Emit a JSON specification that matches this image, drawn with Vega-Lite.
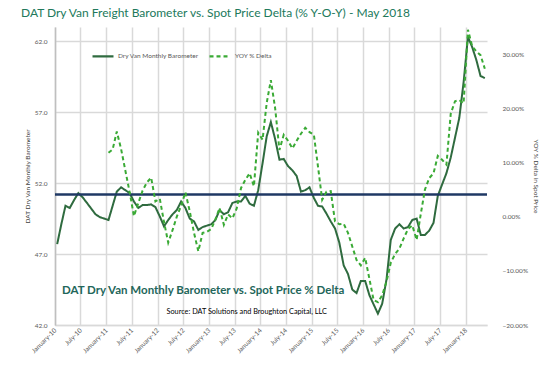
{
  "$schema": "https://vega.github.io/schema/vega-lite/v6.json",
  "width": 432,
  "height": 298,
  "autosize": {"type": "none"},
  "padding": {"left": 55, "top": 27, "right": 63, "bottom": 51},
  "background": "white",
  "config": {
    "font": "Lato",
    "view": {"stroke": null},
    "axis": {"labelFont": "Lato", "titleFont": "Lato"},
    "axisX": {
      "title": null,
      "format": "%B-%y",
      "formatType": "time",
      "labelAngle": -45,
      "labelAlign": "right",
      "labelBaseline": "middle",
      "labelPadding": 4,
      "labelFontSize": 6.5,
      "labelColor": "#595959",
      "labelOverlap": false,
      "ticks": false,
      "grid": true,
      "gridColor": "#d9d9d9",
      "gridWidth": 1.5,
      "domainColor": "#d9d9d9",
      "domainWidth": 1.5
    },
    "legend": {"labelFont": "Lato"}
  },
  "title": {
    "text": "DAT Dry Van Freight Barometer vs. Spot Price Delta (% Y-O-Y) - May 2018",
    "anchor": "start",
    "frame": "group",
    "dx": -34,
    "offset": 6,
    "fontSize": 12,
    "fontWeight": "normal",
    "color": "#21795b",
    "font": "Lato"
  },
  "data": {"values": [
    {"date": "2010-01-01T00:00", "barometer": 47.7},
    {"date": "2010-02-01T00:00", "barometer": 49.1},
    {"date": "2010-03-01T00:00", "barometer": 50.4},
    {"date": "2010-04-01T00:00", "barometer": 50.25},
    {"date": "2010-05-01T00:00", "barometer": 50.8},
    {"date": "2010-06-01T00:00", "barometer": 51.3},
    {"date": "2010-07-01T00:00", "barometer": 51.0},
    {"date": "2010-08-01T00:00", "barometer": 50.6},
    {"date": "2010-09-01T00:00", "barometer": 50.2},
    {"date": "2010-10-01T00:00", "barometer": 49.8},
    {"date": "2010-11-01T00:00", "barometer": 49.6},
    {"date": "2010-12-01T00:00", "barometer": 49.5},
    {"date": "2011-01-01T00:00", "barometer": 49.4, "yoy": 0.118},
    {"date": "2011-02-01T00:00", "barometer": 50.4, "yoy": 0.124},
    {"date": "2011-03-01T00:00", "barometer": 51.4, "yoy": 0.157},
    {"date": "2011-04-01T00:00", "barometer": 51.7, "yoy": 0.125},
    {"date": "2011-05-01T00:00", "barometer": 51.5, "yoy": 0.085},
    {"date": "2011-06-01T00:00", "barometer": 51.3, "yoy": 0.045},
    {"date": "2011-07-01T00:00", "barometer": 50.7, "yoy": 0.001},
    {"date": "2011-08-01T00:00", "barometer": 50.25, "yoy": 0.025},
    {"date": "2011-09-01T00:00", "barometer": 50.45, "yoy": 0.048},
    {"date": "2011-10-01T00:00", "barometer": 50.45, "yoy": 0.063},
    {"date": "2011-11-01T00:00", "barometer": 50.5, "yoy": 0.072},
    {"date": "2011-12-01T00:00", "barometer": 50.3, "yoy": 0.028},
    {"date": "2012-01-01T00:00", "barometer": 49.65, "yoy": 0.033},
    {"date": "2012-02-01T00:00", "barometer": 48.95, "yoy": -0.010},
    {"date": "2012-03-01T00:00", "barometer": 49.4, "yoy": -0.048},
    {"date": "2012-04-01T00:00", "barometer": 49.8, "yoy": -0.025},
    {"date": "2012-05-01T00:00", "barometer": 50.1, "yoy": 0.000},
    {"date": "2012-06-01T00:00", "barometer": 50.7, "yoy": 0.020},
    {"date": "2012-07-01T00:00", "barometer": 50.25, "yoy": 0.045},
    {"date": "2012-08-01T00:00", "barometer": 49.5, "yoy": 0.010},
    {"date": "2012-09-01T00:00", "barometer": 49.3, "yoy": -0.030},
    {"date": "2012-10-01T00:00", "barometer": 48.7, "yoy": -0.064},
    {"date": "2012-11-01T00:00", "barometer": 48.9, "yoy": -0.030},
    {"date": "2012-12-01T00:00", "barometer": 49.0, "yoy": -0.028},
    {"date": "2013-01-01T00:00", "barometer": 49.1, "yoy": -0.023},
    {"date": "2013-02-01T00:00", "barometer": 49.4, "yoy": -0.005},
    {"date": "2013-03-01T00:00", "barometer": 50.1, "yoy": 0.016},
    {"date": "2013-04-01T00:00", "barometer": 49.8, "yoy": -0.015},
    {"date": "2013-05-01T00:00", "barometer": 49.95, "yoy": 0.004},
    {"date": "2013-06-01T00:00", "barometer": 50.6, "yoy": -0.003},
    {"date": "2013-07-01T00:00", "barometer": 50.7, "yoy": 0.015},
    {"date": "2013-08-01T00:00", "barometer": 50.7, "yoy": 0.053},
    {"date": "2013-09-01T00:00", "barometer": 51.1, "yoy": 0.068},
    {"date": "2013-10-01T00:00", "barometer": 50.55, "yoy": 0.080},
    {"date": "2013-11-01T00:00", "barometer": 50.4, "yoy": 0.056},
    {"date": "2013-12-01T00:00", "barometer": 51.5, "yoy": 0.155},
    {"date": "2014-01-01T00:00", "barometer": 53.4, "yoy": 0.142},
    {"date": "2014-02-01T00:00", "barometer": 55.3, "yoy": 0.210},
    {"date": "2014-03-01T00:00", "barometer": 56.3, "yoy": 0.252},
    {"date": "2014-04-01T00:00", "barometer": 55.1, "yoy": 0.200},
    {"date": "2014-05-01T00:00", "barometer": 53.65, "yoy": 0.123},
    {"date": "2014-06-01T00:00", "barometer": 53.7, "yoy": 0.151},
    {"date": "2014-07-01T00:00", "barometer": 53.2, "yoy": 0.140},
    {"date": "2014-08-01T00:00", "barometer": 52.9, "yoy": 0.126},
    {"date": "2014-09-01T00:00", "barometer": 52.5, "yoy": 0.140},
    {"date": "2014-10-01T00:00", "barometer": 51.4, "yoy": 0.153},
    {"date": "2014-11-01T00:00", "barometer": 51.5, "yoy": 0.164},
    {"date": "2014-12-01T00:00", "barometer": 51.7, "yoy": 0.156},
    {"date": "2015-01-01T00:00", "barometer": 50.95, "yoy": 0.151},
    {"date": "2015-02-01T00:00", "barometer": 50.4, "yoy": 0.092},
    {"date": "2015-03-01T00:00", "barometer": 50.35, "yoy": 0.031},
    {"date": "2015-04-01T00:00", "barometer": 49.85, "yoy": 0.046},
    {"date": "2015-05-01T00:00", "barometer": 49.3, "yoy": 0.047},
    {"date": "2015-06-01T00:00", "barometer": 48.8, "yoy": -0.009},
    {"date": "2015-07-01T00:00", "barometer": 47.8, "yoy": -0.014},
    {"date": "2015-08-01T00:00", "barometer": 46.2, "yoy": -0.013},
    {"date": "2015-09-01T00:00", "barometer": 45.6, "yoy": -0.030},
    {"date": "2015-10-01T00:00", "barometer": 44.5, "yoy": -0.055},
    {"date": "2015-11-01T00:00", "barometer": 44.25, "yoy": -0.080},
    {"date": "2015-12-01T00:00", "barometer": 45.1, "yoy": -0.090},
    {"date": "2016-01-01T00:00", "barometer": 45.1, "yoy": -0.076},
    {"date": "2016-02-01T00:00", "barometer": 44.1, "yoy": -0.115},
    {"date": "2016-03-01T00:00", "barometer": 43.45, "yoy": -0.154},
    {"date": "2016-04-01T00:00", "barometer": 42.8, "yoy": -0.158},
    {"date": "2016-05-01T00:00", "barometer": 43.5, "yoy": -0.145},
    {"date": "2016-06-01T00:00", "barometer": 45.2, "yoy": -0.120},
    {"date": "2016-07-01T00:00", "barometer": 48.0, "yoy": -0.085},
    {"date": "2016-08-01T00:00", "barometer": 48.8, "yoy": -0.069},
    {"date": "2016-09-01T00:00", "barometer": 49.1, "yoy": -0.059},
    {"date": "2016-10-01T00:00", "barometer": 48.8, "yoy": -0.040},
    {"date": "2016-11-01T00:00", "barometer": 48.9, "yoy": -0.023},
    {"date": "2016-12-01T00:00", "barometer": 49.4, "yoy": -0.016},
    {"date": "2017-01-01T00:00", "barometer": 49.5, "yoy": -0.043},
    {"date": "2017-02-01T00:00", "barometer": 48.35, "yoy": 0.005},
    {"date": "2017-03-01T00:00", "barometer": 48.35, "yoy": 0.050},
    {"date": "2017-04-01T00:00", "barometer": 48.65, "yoy": 0.071},
    {"date": "2017-05-01T00:00", "barometer": 49.2, "yoy": 0.080},
    {"date": "2017-06-01T00:00", "barometer": 51.1, "yoy": 0.112},
    {"date": "2017-07-01T00:00", "barometer": 51.9, "yoy": 0.105},
    {"date": "2017-08-01T00:00", "barometer": 52.7, "yoy": 0.096},
    {"date": "2017-09-01T00:00", "barometer": 53.8, "yoy": 0.190},
    {"date": "2017-10-01T00:00", "barometer": 55.2, "yoy": 0.213},
    {"date": "2017-11-01T00:00", "barometer": 56.6, "yoy": 0.215},
    {"date": "2017-12-01T00:00", "barometer": 59.1, "yoy": 0.209},
    {"date": "2018-01-01T00:00", "barometer": 62.3, "yoy": 0.345},
    {"date": "2018-02-01T00:00", "barometer": 61.6, "yoy": 0.315},
    {"date": "2018-03-01T00:00", "barometer": 60.7, "yoy": 0.305},
    {"date": "2018-04-01T00:00", "barometer": 59.55, "yoy": 0.298},
    {"date": "2018-05-01T00:00", "barometer": 59.4, "yoy": 0.273}
  ]},
  "layer": [
    {
      "layer": [
        {
          "mark": {"type": "line", "strokeWidth": 2, "color": "#2f6b3f"},
          "encoding": {
            "x": {
              "field": "date",
              "type": "temporal",
              "timeUnit": "yearmonth",
              "bandPosition": 0.5,
              "scale": {"domain": [{"year": 2010, "month": 1, "date": 1}, {"year": 2018, "month": 6, "date": 1}]},
              "axis": {
                "tickCount": {"interval": "month", "step": 6},
                "format": "%B-%y",
                "formatType": "time"
              }
            },
            "y": {
              "field": "barometer",
              "type": "quantitative",
              "scale": {"domain": [42, 63], "zero": false, "nice": false},
              "axis": {
                "orient": "left",
                "title": "DAT Dry Van Monthly Barometer",
                "titleFontSize": 6.5,
                "titleFontWeight": "normal",
                "titleColor": "#404040",
                "titlePadding": 4,
                "values": [42, 47, 52, 57, 62],
                "format": ".1f",
                "labelFontSize": 6.5,
                "labelColor": "#595959",
                "labelPadding": 8,
                "ticks": false,
                "grid": true,
                "gridColor": "#d9d9d9",
                "gridWidth": 1.5,
                "domain": true,
                "domainColor": "#bfbfbf",
                "domainWidth": 1.5
              }
            },
            "color": {
              "datum": "Dry Van Monthly Barometer",
              "type": "nominal",
              "scale": {"domain": ["Dry Van Monthly Barometer", "YOY % Delta"], "range": ["#2f6b3f", "#3aaa35"]},
              "legend": {
                "title": null,
                "orient": "none",
                "legendX": 36,
                "legendY": 17,
                "direction": "horizontal",
                "symbolType": "stroke",
                "symbolSize": 440,
                "symbolStrokeWidth": 2.2,
                "labelFontSize": 6.5,
                "labelColor": "#595959",
                "columnPadding": 6,
                "labelOffset": 3
              }
            },
            "strokeDash": {
              "datum": "Dry Van Monthly Barometer",
              "type": "nominal",
              "scale": {"domain": ["Dry Van Monthly Barometer", "YOY % Delta"], "range": [[1, 0], [4, 3]]},
              "legend": {
                "title": null,
                "orient": "none",
                "legendX": 36,
                "legendY": 17,
                "direction": "horizontal",
                "symbolType": "stroke",
                "symbolSize": 440,
                "symbolStrokeWidth": 2.2,
                "labelFontSize": 6.5,
                "labelColor": "#595959",
                "columnPadding": 6,
                "labelOffset": 3
              }
            }
          }
        },
        {
          "data": {"values": [{"level": 51.2}]},
          "mark": {"type": "rule", "color": "#1f3864", "strokeWidth": 2.5},
          "encoding": {"y": {"field": "level", "type": "quantitative"}}
        },
        {
          "data": {"values": [{"label": "DAT Dry Van Monthly Barometer vs. Spot Price % Delta"}]},
          "mark": {"type": "text", "align": "left", "baseline": "middle", "fontSize": 11.5, "fontWeight": "bold", "color": "#23665a", "font": "Lato"},
          "encoding": {
            "x": {"datum": {"year": 2010, "month": 2, "date": 20}, "type": "temporal", "axis": {"tickCount": {"interval": "month", "step": 6}, "format": "%B-%y", "formatType": "time"}},
            "y": {"datum": 44.4, "type": "quantitative"},
            "text": {"field": "label"}
          }
        },
        {
          "data": {"values": [{"label": "Source: DAT Solutions and Broughton Capital, LLC"}]},
          "mark": {"type": "text", "align": "center", "baseline": "middle", "fontSize": 7.3, "color": "#000000", "font": "Lato"},
          "encoding": {
            "x": {"datum": {"year": 2013, "month": 9, "date": 26}, "type": "temporal", "axis": {"tickCount": {"interval": "month", "step": 6}, "format": "%B-%y", "formatType": "time"}},
            "y": {"datum": 42.92, "type": "quantitative"},
            "text": {"field": "label"}
          }
        }
      ]
    },
    {
      "mark": {"type": "line", "strokeWidth": 2, "color": "#3aaa35"},
      "encoding": {
        "x": {
          "field": "date",
          "type": "temporal",
          "timeUnit": "yearmonth",
          "bandPosition": 0.5,
          "axis": {
            "tickCount": {"interval": "month", "step": 6},
            "format": "%B-%y",
            "formatType": "time"
          }
        },
        "y": {
          "field": "yoy",
          "type": "quantitative",
          "scale": {"domain": [-0.2, 0.35], "zero": false, "nice": false},
          "axis": {
            "orient": "right",
            "title": "YOY % Delta in Spot Price",
            "titleFontSize": 6.5,
            "titleFontWeight": "normal",
            "titleColor": "#404040",
            "titlePadding": 5,
            "values": [-0.2, -0.1, 0, 0.1, 0.2, 0.3],
            "format": ".2%",
            "labelFontSize": 6.5,
            "labelColor": "#595959",
            "labelPadding": 15,
            "ticks": false,
            "grid": false,
            "domain": false
          }
        },
        "color": {"datum": "YOY % Delta", "type": "nominal"},
        "strokeDash": {"datum": "YOY % Delta", "type": "nominal"}
      }
    }
  ],
  "resolve": {"scale": {"y": "independent"}}
}
